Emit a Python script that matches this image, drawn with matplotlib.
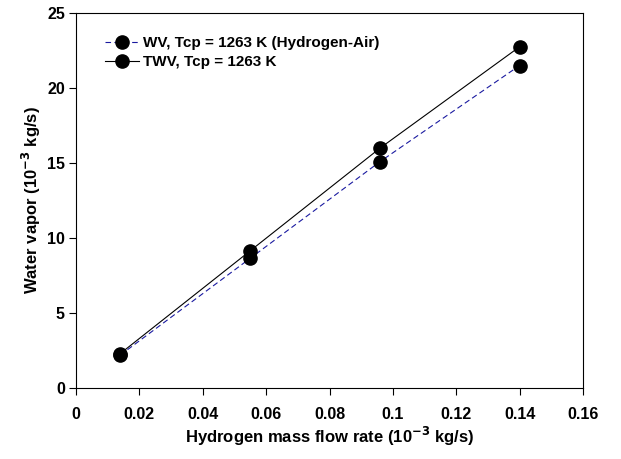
import matplotlib
matplotlib.use("Agg")
import matplotlib.pyplot as plt

# Data
h2_flow = [0.014, 0.055, 0.096, 0.140]
wv = [2.2, 8.65, 15.1, 21.5]
twv = [2.3, 9.15, 16.0, 22.75]

x_ticks = [0, 0.02, 0.04, 0.06, 0.08, 0.1, 0.12, 0.14, 0.16]
x_tick_labels = ["0", "0.02", "0.04", "0.06", "0.08", "0.1", "0.12", "0.14", "0.16"]
y_ticks = [0, 5, 10, 15, 20, 25]

plt.rcParams['font.family'] = ['Liberation Sans', 'DejaVu Sans']
plt.rcParams['font.weight'] = 'bold'
plt.rcParams['mathtext.default'] = 'bf'

fig = plt.figure(figsize=(6.21, 4.59), dpi=100)
ax = fig.add_axes([76/621, 1-388/459, (583-76)/621, (388-13)/459])

ax.plot(h2_flow, wv, color='#1a1aa0', linestyle=(0, (5, 3)), linewidth=0.8,
        marker='o', markersize=9.5, markerfacecolor='black', markeredgecolor='black',
        label='WV, Tcp = 1263 K (Hydrogen-Air)')
ax.plot(h2_flow, twv, color='black', linestyle='-', linewidth=0.8,
        marker='o', markersize=9.5, markerfacecolor='black', markeredgecolor='black',
        label='TWV, Tcp = 1263 K')

ax.set_xlim(0, 0.16)
ax.set_ylim(0, 25)
ax.set_xticks(x_ticks)
ax.set_xticklabels(x_tick_labels)
ax.set_yticks(y_ticks)
ax.tick_params(axis='both', direction='out', length=5, width=0.8, labelsize=11.5,
               top=False, right=False)
ax.tick_params(axis='x', pad=9)
ax.tick_params(axis='y', pad=3)
for lab in ax.get_xticklabels() + ax.get_yticklabels():
    lab.set_fontweight('bold')
for sp in ax.spines.values():
    sp.set_linewidth(0.8)

ax.set_xlabel('Hydrogen mass flow rate (10$^{\\mathbf{-3}}$ kg/s)', fontsize=12,
              fontweight='bold', labelpad=2)
ax.set_ylabel('Water vapor (10$^{\\mathbf{-3}}$ kg/s)', fontsize=12,
              fontweight='bold', labelpad=3)

leg = ax.legend(loc='upper left', bbox_to_anchor=(0.045, 0.955), frameon=False,
                fontsize=11, handlelength=2.2, handletextpad=0.3, labelspacing=0.35,
                borderaxespad=0)
for t in leg.get_texts():
    t.set_fontweight('bold')

fig.savefig('out.png', dpi=100)
